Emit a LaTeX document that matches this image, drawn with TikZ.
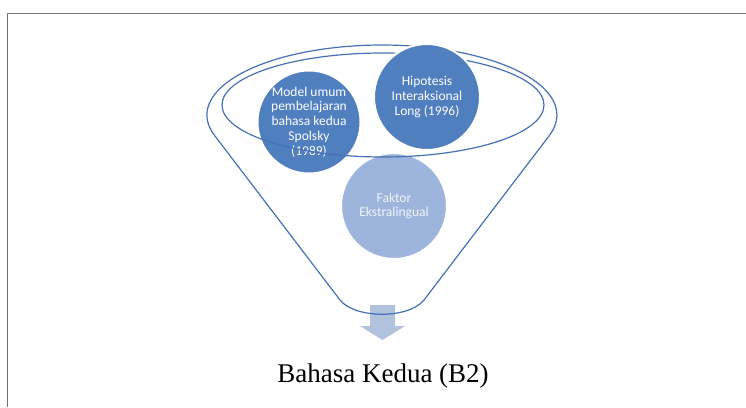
\documentclass[tikz,border=0pt]{standalone}
\usepackage{fontspec}
\setmainfont{Liberation Serif}
\newfontfamily\calibri{Carlito}
\usepackage{xcolor}
\usetikzlibrary{positioning}

\definecolor{xanh}{HTML}{4F7FBF}
\definecolor{xanhnhat}{HTML}{9DB5DC}
\definecolor{vien}{HTML}{4670B5}
\definecolor{khung}{HTML}{707070}
\definecolor{muiten}{HTML}{A9BBDB}

\begin{document}
\begin{tikzpicture}[x=1pt, y=1pt, >=latex,
    pheu/.style={draw=vien, line width=1.2pt},
    vong/.style={circle, draw=white, line width=2pt, minimum size=#1,
        inner sep=0pt, align=center, text=white,
        font=\calibri\fontsize{13.5}{14.8}\selectfont}]
    \useasboundingbox (0,0) rectangle (746,407);

    % 1. Khung
    \draw[khung, line width=0.9pt] (746,394) -- (7,394) -- (7,0);

    % 2. Miệng phễu (phần phía sau)
    \coordinate (traiT) at (214.6,271.5);
    \coordinate (phaiT) at (549.4,271.5);
    \coordinate (traiD) at (340,107);
    \coordinate (phaiD) at (424,107);
    \draw[pheu] (traiT) arc[start angle=197, end angle=-17, x radius=175, y radius=70];
    \draw[pheu] (544,302) arc[start angle=0, end angle=180, x radius=161, y radius=52];

    % 3. Các vòng tròn
    \node[vong=102pt, fill=xanh] (model) at (309,285)
        {Model umum\\pembelajaran\\bahasa kedua\\Spolsky\\(1989)};
    \node[vong=106pt, fill=xanh] (hipotesis) at (427,310)
        {Hipotesis\\Interaksional\\Long (1996)};
    \node[vong=106pt, fill=xanhnhat, text=white!92!xanh] (faktor) at (394,201)
        {Faktor\\Ekstralingual};

    % 4. Mũi tên xuống
    \fill[muiten, opacity=0.9] (370,102) -- (395,102) -- (395,81) -- (405,81)
        -- (382.5,67) -- (360,81) -- (370,81) -- cycle;

    % 5. Phễu (phần phía trước)
    \draw[pheu] (222,302) arc[start angle=180, end angle=360, x radius=161, y radius=52];
    \draw[pheu] (traiT) -- (traiD) .. controls +(15,-19) and +(-15,-19) .. (phaiD) -- (phaiT);

    % 6. Kết quả
    \node[anchor=base, font=\fontsize{27}{32}\selectfont] (b2) at (383,25) {Bahasa Kedua (B2)};
\end{tikzpicture}
\end{document}
